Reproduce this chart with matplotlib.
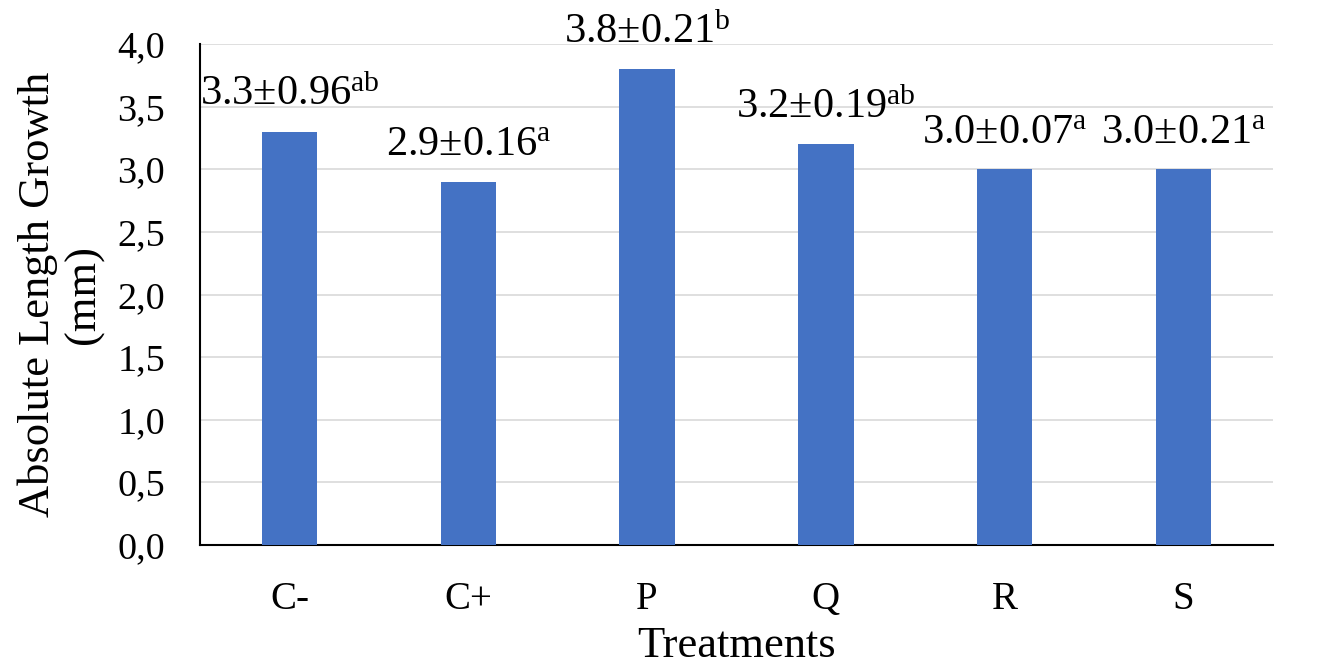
import matplotlib
matplotlib.use("Agg")
from matplotlib import pyplot as plt
from matplotlib.ticker import FuncFormatter

plt.rcParams['font.family'] = ['Liberation Serif', 'DejaVu Serif']
plt.rcParams['mathtext.fontset'] = 'custom'
plt.rcParams['mathtext.rm'] = 'Liberation Serif'
plt.rcParams['mathtext.it'] = 'Liberation Serif:italic'

# data
treatments = ["C-", "C+", "P", "Q", "R", "S"]
growth = [3.3, 2.9, 3.8, 3.2, 3.0, 3.0]
sd = ["0.96", "0.16", "0.21", "0.19", "0.07", "0.21"]
letters = ["ab", "a", "b", "ab", "a", "a"]

fig = plt.figure(figsize=(13.2, 6.69), dpi=100)
ax = fig.add_axes([0.1515, 0.1853, 0.8129, 0.7489])

x = range(len(treatments))
bars = ax.bar(x, growth, width=0.31, color="#4472C4", zorder=3)

for i in x:
    lab = "%.1f±%s$^{\\mathregular{%s}}$" % (growth[i], sd[i], letters[i])
    ax.annotate(lab, (i, growth[i]), xytext=(0, 19), textcoords="offset points",
                ha="center", va="baseline", fontsize=30.5)

ax.set_xlim(-0.5, len(treatments) - 0.5)
ax.set_ylim(0, 4.0)
ax.set_yticks([0, 0.5, 1.0, 1.5, 2.0, 2.5, 3.0, 3.5, 4.0])
ax.yaxis.set_major_formatter(FuncFormatter(lambda v, p: ("%.1f" % v).replace(".", ",")))
ax.set_xticks(list(x))
ax.set_xticklabels(treatments)
ax.tick_params(axis="y", length=0, pad=25, labelsize=27.5)
ax.tick_params(axis="x", length=0, pad=26, labelsize=28)

ax.grid(axis="y", color="#d9d9d9", linewidth=1.2, zorder=0)
ax.spines["top"].set_visible(False)
ax.spines["right"].set_visible(False)
ax.spines["left"].set_color("black")
ax.spines["left"].set_linewidth(1.5)
ax.spines["bottom"].set_color("black")
ax.spines["bottom"].set_linewidth(1.5)

ax.set_ylabel("Absolute Length Growth\n(mm)", fontsize=32, linespacing=1.15, labelpad=10)
ax.set_xlabel("Treatments", fontsize=32, labelpad=6)

fig.savefig("out.png", dpi=100)
